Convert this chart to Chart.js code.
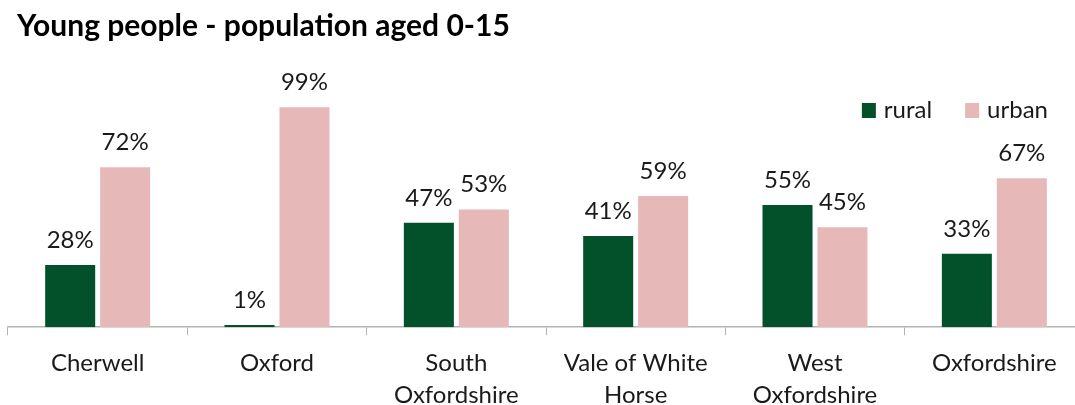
<!DOCTYPE html>
<html>
<head>
<meta charset="utf-8">
<script src="https://cdn.jsdelivr.net/npm/chart.js@4"></script>
<style>
  html, body { margin: 0; padding: 0; background: #fff; overflow: hidden; }
  #wrap { position: relative; width: 1090px; height: 423px; }
  #titolo {
    position: absolute; left: 17px; top: 9px;
    font-family: Lato, sans-serif; font-weight: bold; font-size: 30px; line-height: 30px;
    color: #000; white-space: nowrap;
  }
</style>
</head>
<body>
<div id="wrap">
  <canvas id="grafico" width="1090" height="423"></canvas>
  <div id="titolo">Young people - population aged 0-15</div>
</div>
<script>
// Categorie (etichette su due righe dove serve)
const districts = ['Cherwell', 'Oxford', ['South', 'Oxfordshire'], ['Vale of White', 'Horse'], ['West', 'Oxfordshire'], 'Oxfordshire'];
// Valori in percentuale
const rural = [28, 1, 47, 41, 55, 33];
const urban = [72, 99, 53, 59, 45, 67];

const ruralColor = '#03512a';
const urbanColor = '#e6b8b7';
const testo = '#1a1a1a';

// Percentuali sopra le barre + legenda in alto a destra
const etichette = {
    id: 'etichette',
    afterDatasetsDraw(chart) {
        const ctx = chart.ctx;
        ctx.save();
        ctx.font = '24px Lato';
        ctx.fillStyle = testo;
        ctx.textAlign = 'center';
        ctx.textBaseline = 'alphabetic';
        chart.data.datasets.forEach((ds, i) => {
            chart.getDatasetMeta(i).data.forEach((bar, j) => {
                ctx.fillText(ds.data[j] + '%', bar.x, bar.y - 17);
            });
        });

        // legenda: allineata a destra, dentro l'area del grafico
        ctx.textAlign = 'left';
        let x = chart.chartArea.right - 36;
        const yBase = 118;
        const items = chart.data.datasets.slice().reverse();
        items.forEach(ds => {
            const w = ctx.measureText(ds.label).width;
            x -= w;
            ctx.fillStyle = testo;
            ctx.fillText(ds.label, x, yBase);
            x -= 8 + 14;
            ctx.fillStyle = ds.backgroundColor;
            ctx.fillRect(x, yBase - 15, 14, 15);
            x -= 33;
        });
        ctx.restore();
    }
};

new Chart(document.getElementById('grafico').getContext('2d'), {
    type: 'bar',
    data: {
        labels: districts,
        datasets: [
            { label: 'rural', data: rural, backgroundColor: ruralColor },
            { label: 'urban', data: urban, backgroundColor: urbanColor }
        ]
    },
    options: {
        responsive: false,
        animation: false,
        layout: { padding: { left: 8, right: 6, top: 65, bottom: 0 } },
        datasets: {
            bar: { categoryPercentage: 0.613, barPercentage: 0.91 }
        },
        plugins: {
            legend: { display: false },
            tooltip: { enabled: false }
        },
        scales: {
            x: {
                grid: { drawOnChartArea: false, drawTicks: true, tickLength: 8, color: '#b3b3b3' },
                border: { display: true, color: '#b3b3b3', width: 1.5 },
                ticks: {
                    font: { family: 'Lato', size: 24, lineHeight: 1.33 },
                    color: testo,
                    padding: 12,
                    maxRotation: 0,
                    autoSkip: false
                }
            },
            y: {
                display: false,
                min: 0,
                max: 118
            }
        }
    },
    plugins: [etichette]
});
</script>
</body>
</html>
